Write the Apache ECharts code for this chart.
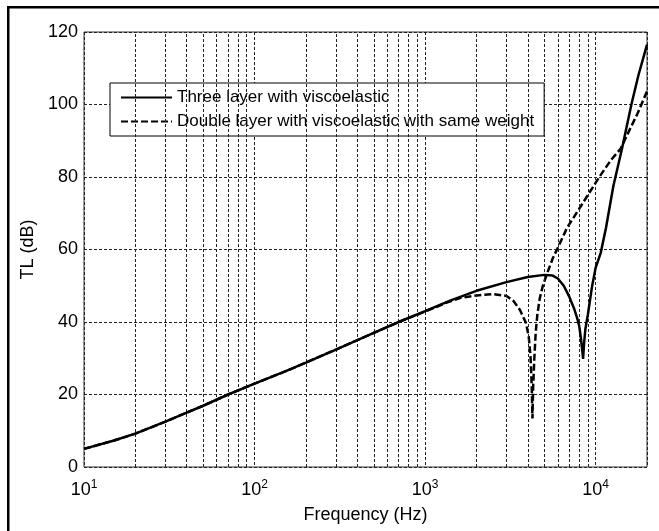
<!DOCTYPE html>
<html>
<head>
<meta charset="utf-8">
<script src="https://cdn.jsdelivr.net/npm/echarts@6/dist/echarts.min.js"></script>
<style>
html,body{margin:0;padding:0;background:#fff;}
#c{width:659px;height:531px;}
</style>
</head>
<body>
<div id="c"></div>
<script>
// ---- data ----
const freqThree = [10, 15, 20, 30, 40, 50, 70, 100, 150, 200, 300, 500, 700, 1000, 1400, 2000, 3000, 4000, 5000, 5600, 6000, 6500, 7000, 7500, 7800, 8000, 8200, 8350, 8440, 8550, 8700, 9000, 9500, 10000, 10700, 11500, 12700, 14300, 16200, 17800, 20000];
const tlThree   = [5.0, 7.3, 9.2, 12.5, 15.0, 16.9, 20.0, 23.0, 26.3, 28.8, 32.4, 37.0, 40.0, 43.0, 45.9, 48.6, 51.0, 52.4, 53.0, 52.8, 52.0, 50.0, 47.0, 43.5, 41.0, 39.0, 35.5, 32.0, 29.8, 34.0, 38.0, 42.0, 49.5, 55.0, 59.0, 66.0, 77.5, 88.0, 100.0, 108.0, 116.5];

const freqDouble = [10, 15, 20, 30, 40, 50, 70, 100, 150, 200, 300, 500, 700, 1000, 1350, 1600, 2000, 2500, 3000, 3300, 3600, 3900, 4050, 4150, 4220, 4260, 4300, 4370, 4450, 4550, 4700, 4900, 5200, 5600, 6000, 6800, 8200, 10500, 12300, 14000, 16000, 17600, 20000];
const tlDouble   = [5.0, 7.3, 9.2, 12.5, 15.0, 16.9, 20.0, 23.0, 26.3, 28.8, 32.4, 37.0, 40.0, 42.9, 45.4, 46.6, 47.3, 47.7, 47.2, 45.8, 43.3, 39.8, 36.0, 30.5, 22.0, 13.4, 22.0, 30.0, 37.0, 42.0, 46.5, 50.0, 53.5, 57.5, 60.5, 66.0, 72.0, 80.0, 84.7, 87.8, 93.5, 97.5, 103.6];

const seriesNames = ['Three layer with viscoelastic', 'Double layer with viscoelastic with same weight'];
const minorGridX = [20, 30, 40, 50, 60, 70, 80, 90, 200, 300, 400, 500, 600, 700, 800, 900, 2000, 3000, 4000, 5000, 6000, 7000, 8000, 9000];
const yTicks = [0, 20, 40, 60, 80, 100, 120];

const FONT = 'Liberation Sans, Arial, Helvetica, sans-serif';
const zip = (xs, ys) => xs.map((x, i) => [x, ys[i]]);
const gridStyle = {color: '#222', width: 1, type: [3, 2]};

const chart = echarts.init(document.getElementById('c'), null, {renderer: 'canvas'});
chart.setOption({
  animation: false,
  backgroundColor: '#fff',
  textStyle: {fontFamily: FONT, color: '#000'},
  graphic: [
    {type: 'rect', shape: {x: 7, y: 6, width: 660, height: 2.5}, style: {fill: '#000'}, silent: true},
    {type: 'rect', shape: {x: 7, y: 6, width: 2.5, height: 530}, style: {fill: '#000'}, silent: true}
  ],
  grid: {left: 84, top: 32, right: 12, bottom: 64, show: true, borderColor: '#333', borderWidth: 1, backgroundColor: 'transparent'},
  legend: {
    left: 110, top: 83, orient: 'vertical',
    width: 430,
    data: seriesNames,
    backgroundColor: '#fff', borderColor: '#000', borderWidth: 1,
    padding: [6, 10, 6, 10], itemGap: 7,
    itemWidth: 51, itemHeight: 14,
    itemStyle: {opacity: 0},
    textStyle: {fontSize: 17, color: '#000', fontFamily: FONT}
  },
  xAxis: {
    type: 'log', logBase: 10, min: 10, max: 20000,
    name: 'Frequency (Hz)', nameLocation: 'middle', nameGap: 39,
    nameTextStyle: {fontSize: 18, color: '#000', fontFamily: FONT},
    axisLine: {show: false}, axisTick: {show: false},
    splitLine: {show: true, lineStyle: gridStyle},
    axisLabel: {
      margin: 12, color: '#000',
      formatter: function (v) {
        const e = Math.round(Math.log10(v));
        if (Math.abs(Math.pow(10, e) - v) / v > 1e-6) return '';
        return '{b|10}{s|' + e + '}';
      },
      rich: {
        b: {fontSize: 18, fontFamily: FONT, color: '#000'},
        s: {fontSize: 12, fontFamily: FONT, color: '#000', verticalAlign: 'top', padding: [0, 0, 10, 0]}
      }
    }
  },
  yAxis: {
    type: 'value', min: 0, max: 120, interval: 20,
    name: 'TL (dB)', nameLocation: 'middle', nameGap: 46, nameRotate: 90,
    nameTextStyle: {fontSize: 18, color: '#000', fontFamily: FONT},
    axisLine: {show: false}, axisTick: {show: false},
    splitLine: {show: true, lineStyle: gridStyle},
    axisLabel: {margin: 6, fontSize: 18, color: '#000', fontFamily: FONT,
      formatter: v => (yTicks.indexOf(v) >= 0 ? String(v) : '')}
  },
  series: [
    {
      name: seriesNames[0], type: 'line', data: zip(freqThree, tlThree),
      symbol: 'none', smooth: false,
      lineStyle: {color: '#000', width: 2.5, type: 'solid'},
      itemStyle: {color: '#000'}, z: 5,
      markLine: {
        silent: true, symbol: 'none', label: {show: false}, animation: false,
        lineStyle: gridStyle,
        data: minorGridX.map(v => ({xAxis: v}))
      }
    },
    {
      name: seriesNames[1], type: 'line', data: zip(freqDouble, tlDouble),
      symbol: 'none', smooth: false,
      lineStyle: {color: '#000', width: 2.5, type: [7, 3]},
      itemStyle: {color: '#000'}, z: 4
    }
  ]
});
</script>
</body>
</html>
